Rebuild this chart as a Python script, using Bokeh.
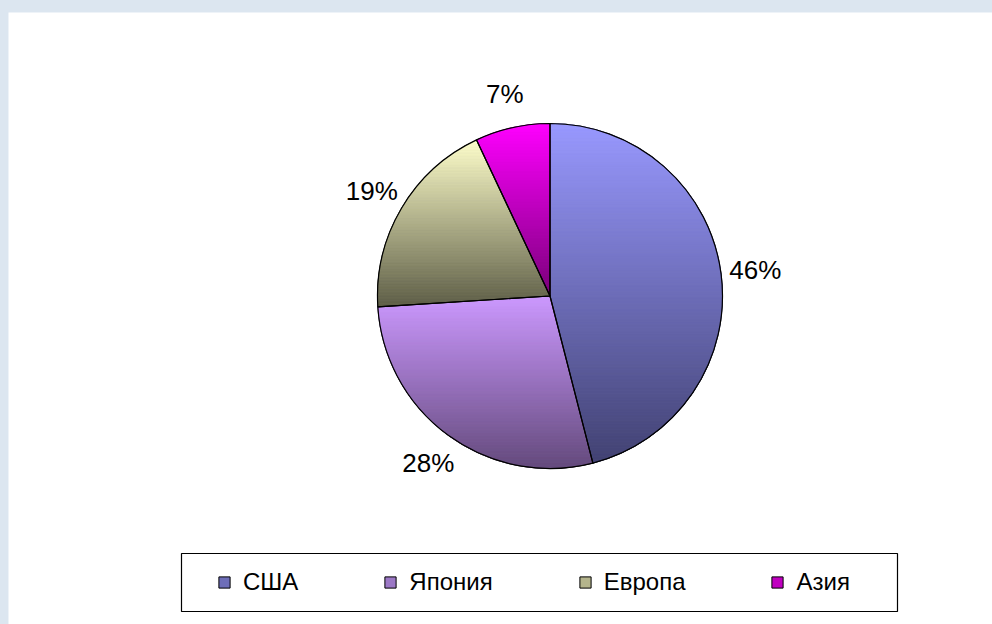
import numpy as np
from bokeh.plotting import figure
from bokeh.models import Range1d, ColumnDataSource, Legend, LegendItem, BoxAnnotation
from bokeh.core.properties import value
from bokeh.embed import file_html
from bokeh.resources import INLINE

# ---- data ----
categories = ["США", "Япония", "Европа", "Азия"]
shares = [46, 28, 19, 7]
label_texts = ["46%", "28%", "19%", "7%"]
top_colors = ["#9999ff", "#cc99ff", "#ffffcc", "#ff00ff"]
bottom_colors = ["#424272", "#644a7c", "#5e5e47", "#7a007a"]
legend_colors = ["#6e6eb8", "#9c78c6", "#b4b48c", "#c000c0"]

W, H = 984, 612
CX, CY, R = 541.5, 328.5, 172.5
FONT = "Liberation Sans"

p = figure(width=W, height=H, output_backend="svg", toolbar_location=None,
           x_range=Range1d(0, W), y_range=Range1d(0, H), min_border=0,
           x_axis_type=None, y_axis_type=None)
p.grid.visible = False
p.outline_line_color = None
p.background_fill_color = "white"
p.border_fill_color = "white"

frac = np.array(shares, dtype=float) / np.sum(shares)
cum = np.concatenate([[0.0], np.cumsum(frac)])
a_start = np.pi / 2 - 2 * np.pi * cum[:-1]
a_end = np.pi / 2 - 2 * np.pi * cum[1:]

# base wedges (also used for legend glyphs)
src = ColumnDataSource(dict(start=a_end, end=a_start, color=legend_colors, cat=categories))
base = p.wedge(x=CX, y=CY, radius=R, start_angle="start", end_angle="end",
               fill_color="color", line_color="black", line_width=1, source=src)


def hex2rgb(h):
    h = h.lstrip("#")
    return np.array([int(h[i:i + 2], 16) for i in (0, 2, 4)], dtype=float)


def rgb2hex(c):
    c = np.clip(np.round(c), 0, 255).astype(int)
    return "#%02x%02x%02x" % tuple(c)


def clip_half(pts, y0, keep_above):
    out = []
    n = len(pts)
    for i in range(n):
        P = pts[i]
        Q = pts[(i + 1) % n]
        inP = P[1] >= y0 if keep_above else P[1] <= y0
        inQ = Q[1] >= y0 if keep_above else Q[1] <= y0
        if inP:
            out.append(P)
        if inP != inQ:
            t = (y0 - P[1]) / (Q[1] - P[1])
            out.append((P[0] + t * (Q[0] - P[0]), y0))
    return out


gx, gy, gc = [], [], []
for i in range(len(shares)):
    n = max(8, int(400 * frac[i]))
    t = np.linspace(a_start[i], a_end[i], n)
    poly = [(CX, CY)] + [(CX + R * np.cos(v), CY + R * np.sin(v)) for v in t]
    ys = [q[1] for q in poly]
    ymin, ymax = min(ys), max(ys)
    c0, c1 = hex2rgb(top_colors[i]), hex2rgb(bottom_colors[i])
    step = 1.5
    yt = ymax
    while yt > ymin:
        yb = max(ymin, yt - step)
        band = clip_half(poly, yt, False)
        band = clip_half(band, yb, True) if band else []
        if len(band) >= 3:
            f = (ymax - 0.5 * (yt + yb)) / (ymax - ymin)
            col = rgb2hex(c0 * (1 - f) + c1 * f)
            gx.append([q[0] for q in band])
            gy.append([q[1] for q in band])
            gc.append(col)
        yt = yb

p.patches(gx, gy, fill_color=gc, line_color=gc, line_width=0.7)

# outlines on top
p.wedge(x=CX, y=CY, radius=R, start_angle=a_end, end_angle=a_start,
        fill_color=None, line_color="black", line_width=1.2)

# data labels
mid = 0.5 * (a_start + a_end)
LR = 207
p.text(x=CX + LR * np.cos(mid), y=CY + LR * np.sin(mid), text=label_texts,
       text_align="center", text_baseline="middle",
       text_font=value(FONT), text_font_size="26px", text_color="black")

# legend box
p.add_layout(BoxAnnotation(left=173, right=889, bottom=13, top=71,
                           fill_alpha=0, line_color="black", line_alpha=1, line_width=1.2))

items = [LegendItem(label=categories[i], renderers=[base], index=i) for i in range(len(categories))]
legend = Legend(items=items, orientation="horizontal", location=(209, 28),
                border_line_alpha=0, background_fill_alpha=0, padding=0, margin=0,
                spacing=85, glyph_width=14, glyph_height=14, label_standoff=12,
                label_text_font=FONT, label_text_font_size="24px", label_text_color="black")
p.add_layout(legend, "center")

html = file_html(p, INLINE, title="pie")
html = html.replace("</head>",
                    "<style>html,body{margin:0;padding:0;background:#dce6f0;overflow:hidden}"
                    "body{padding:12px 0 0 8px}</style></head>", 1)
open("out.html", "w").write(html)
